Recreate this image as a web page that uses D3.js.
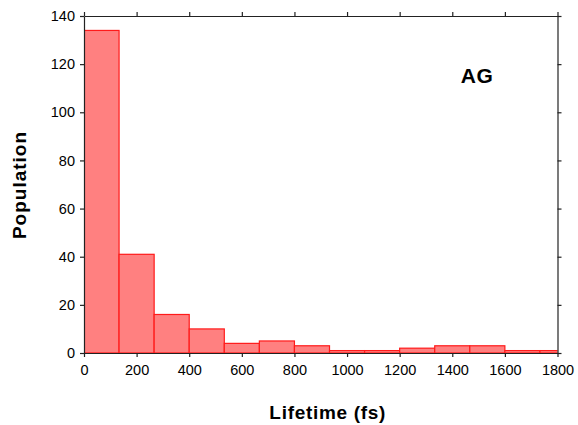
<!DOCTYPE html>
<html lang="en">
<head>
    <meta charset="UTF-8">
    <title>Lifetime histogram</title>
    <script src="https://d3js.org/d3.v7.min.js"></script>
    <style>
        body { margin: 0; background: #fff; }
        text { font-family: "Liberation Sans", Arial, sans-serif; }
    </style>
</head>
<body>
    <div id="chart"></div>
    <script>
        // Histogram data (bin width ~133 fs)
        const binWidth = 133.33;
        const counts = [134, 41, 16, 10, 4, 5, 3, 1, 1, 2, 3, 3, 1, 1];
        const xTicks = [0, 200, 400, 600, 800, 1000, 1200, 1400, 1600, 1800];
        const yTicks = [0, 20, 40, 60, 80, 100, 120, 140];

        const width = 578, height = 425;
        const margin = { left: 84, right: 20, top: 16, bottom: 72 };

        const svg = d3.select("#chart").append("svg")
            .attr("width", width)
            .attr("height", height);

        const x = d3.scaleLinear().domain([0, 1800]).range([margin.left, 557.5]);
        const y = d3.scaleLinear().domain([0, 140]).range([353, margin.top]);

        svg.append("defs").append("clipPath").attr("id", "clip")
            .append("rect")
            .attr("x", x(0)).attr("y", y(140))
            .attr("width", x(1800) - x(0)).attr("height", y(0) - y(140));

        // Bars
        svg.append("g")
            .attr("clip-path", "url(#clip)")
            .selectAll("rect")
            .data(counts)
            .join("rect")
            .attr("x", (d, i) => x(i * binWidth))
            .attr("width", x(binWidth) - x(0))
            .attr("y", d => y(d))
            .attr("height", d => y(0) - y(d))
            .attr("fill", "#ff8080")
            .attr("stroke", "#ff1a1a")
            .attr("stroke-width", 1.2);

        // Axes
        const axisColor = "#222";
        const fmt = d3.format("d");
        const gBottom = svg.append("g")
            .attr("transform", `translate(0,${y(0)})`)
            .call(d3.axisBottom(x).tickValues(xTicks).tickSize(4).tickSizeOuter(0).tickFormat(fmt));
        const gTop = svg.append("g")
            .attr("transform", `translate(0,${y(140)})`)
            .call(d3.axisTop(x).tickValues(xTicks).tickSize(4).tickSizeOuter(0).tickFormat(""));
        const gLeft = svg.append("g")
            .attr("transform", `translate(${x(0)},0)`)
            .call(d3.axisLeft(y).tickValues(yTicks).tickSize(4).tickSizeOuter(0).tickFormat(fmt));
        const gRight = svg.append("g")
            .attr("transform", `translate(${x(1800)},0)`)
            .call(d3.axisRight(y).tickValues(yTicks).tickSize(4).tickSizeOuter(0).tickFormat(""));

        [gBottom, gTop, gLeft, gRight].forEach(g => {
            g.selectAll("path, line").attr("stroke", axisColor).attr("stroke-width", 1.2);
            g.selectAll("text").attr("fill", "#000").style("font-size", "14.5px")
                .style("font-family", "'Liberation Sans', Arial, sans-serif");
        });
        gBottom.selectAll("text").attr("dy", "1.0em");
        gLeft.selectAll("text").attr("x", -9);

        // Labels
        svg.append("text")
            .attr("x", (x(0) + x(1800)) / 2 + 7)
            .attr("y", 419)
            .attr("text-anchor", "middle")
            .style("font-size", "19px")
            .style("font-weight", "bold")
            .style("letter-spacing", "0.7px")
            .text("Lifetime (fs)");

        svg.append("text")
            .attr("transform", `translate(26,185) rotate(-90)`)
            .attr("text-anchor", "middle")
            .style("font-size", "19px")
            .style("font-weight", "bold")
            .style("letter-spacing", "1px")
            .text("Population");

        svg.append("text")
            .attr("x", 477)
            .attr("y", 83)
            .attr("text-anchor", "middle")
            .style("font-size", "21px")
            .style("font-weight", "bold")
            .style("letter-spacing", "0.5px")
            .text("AG");
    </script>
</body>
</html>
